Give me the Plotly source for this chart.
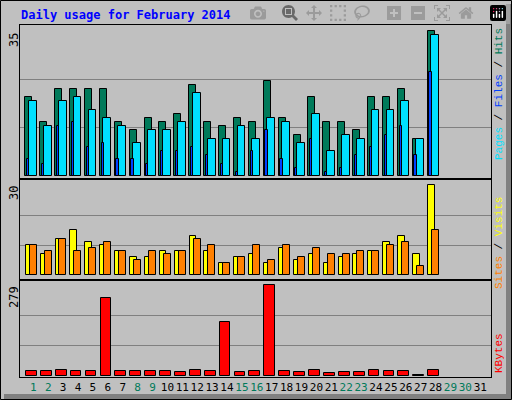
import plotly.graph_objects as go
import numpy as np

days = list(range(1, 32))
hits = [19, 13, 21, 21, 21, 21, 13, 11, 14, 13, 15, 22, 13, 12, 14, 13, 23, 14, 10, 19, 13, 13, 11, 19, 19, 21, 9, 35]
files = [18, 12, 18, 19, 16, 14, 12, 8, 11, 11, 13, 20, 9, 9, 12, 9, 14, 13, 8, 15, 6, 10, 9, 16, 16, 18, 9, 34]
pages = [4, 3, 12, 13, 7, 8, 4, 4, 3, 6, 6, 7, 5, 3, 1, 6, 11, 4, 2, 9, 1, 2, 5, 7, 10, 12, 5, 25]
visits = [10, 7, 12, 15, 11, 10, 8, 6, 6, 8, 8, 13, 8, 4, 6, 7, 4, 9, 5, 7, 4, 6, 7, 8, 11, 13, 7, 30]
sites = [10, 8, 12, 8, 9, 11, 8, 5, 8, 7, 8, 12, 10, 4, 6, 10, 5, 10, 6, 9, 7, 7, 8, 8, 10, 11, 3, 15]
kbytes = [16, 13, 19, 13, 13, 239, 13, 13, 13, 13, 10, 19, 13, 166, 10, 16, 279, 13, 10, 19, 7, 10, 10, 19, 16, 16, 2, 19]
weekend = [1, 2, 8, 9, 15, 16, 22, 23, 29, 30]

x = np.arange(1, len(hits) + 1)
W, H = 512, 400
L, R, T, B = 20, 21, 25, 23
pw, ph = W - L - R, H - T - B


def px(v):
    return (v - L) / pw


def py(v):
    return (H - B - v) / ph


fig = go.Figure()
line = dict(color="black", width=1)


def bar(xv, yv, w, color, ax):
    fig.add_trace(go.Bar(x=xv, y=yv, width=w, marker=dict(color=color, line=line),
                         xaxis="x" + ax, yaxis="y" + ax, showlegend=False, hoverinfo="y"))


bar(x - 0.30, hits, 0.47, "#007A5A", "")
bar(x - 0.03, files, 0.52, "#00E0FF", "")
bar(x - 0.345, pages, 0.15, "#0040FF", "")
bar(x - 0.29, visits, 0.44, "#FFFF00", "2")
bar(x - 0.01, sites, 0.47, "#FF8000", "2")
bar(x - 0.13, kbytes, 0.72, "#FF0000", "3")

xr = [0.107, 31.72]
ticktext = [f"<span style='color:{'#007A5A' if d in weekend else 'black'}'>{d}</span>" for d in days]
common_x = dict(range=xr, showgrid=False, zeroline=False, showline=True, linecolor="black",
                mirror=True, fixedrange=True)
common_y = dict(showline=True, linecolor="black", mirror=True, zeroline=False, showticklabels=False,
                gridcolor="#808080", gridwidth=1, ticks="")

fig.update_layout(
    width=W, height=H, margin=dict(l=L, r=R, t=T, b=B, autoexpand=False),
    paper_bgcolor="#C0C0C0", plot_bgcolor="#C0C0C0", barmode="overlay", bargap=0,
    font=dict(family="DejaVu Sans Mono", size=12, color="black"),
    xaxis=dict(common_x, anchor="y", showticklabels=False),
    xaxis2=dict(common_x, anchor="y2", showticklabels=False, matches="x"),
    xaxis3=dict(common_x, anchor="y3", tickmode="array", tickvals=days, ticktext=ticktext,
                tickfont=dict(size=11), ticks="", tickangle=0),
    yaxis=dict(common_y, domain=[py(178), 1], range=[-0.5, 36.45], tickvals=[11.67, 23.33]),
    yaxis2=dict(common_y, domain=[py(279), py(180)], range=[-1.2, 31.6], tickvals=[10, 20]),
    yaxis3=dict(common_y, domain=[0, py(281)], range=[-4, 292], tickvals=[93, 186]),
)

# left max labels
for text, yv in [("35", 31), ("30", 184), ("279", 284)]:
    fig.add_annotation(xref="paper", yref="paper", x=px(14), y=py(yv), text=text, textangle=-90,
                       showarrow=False, xanchor="center", yanchor="top", font=dict(size=12))

# right legends
fig.add_annotation(xref="paper", yref="paper", x=px(499), y=py(26),
                   text="<span style='color:#00E0FF'>Pages</span> / <span style='color:#0040FF'>Files</span>"
                        " / <span style='color:#007A5A'>Hits</span>",
                   textangle=-90, showarrow=False, xanchor="center", yanchor="top",
                   font=dict(family="Liberation Mono", size=11))
fig.add_annotation(xref="paper", yref="paper", x=px(499), y=py(195),
                   text="<span style='color:#FF8000'>Sites</span> / <span style='color:#FFFF00'>Visits</span>",
                   textangle=-90, showarrow=False, xanchor="center", yanchor="top",
                   font=dict(family="Liberation Mono", size=11))
fig.add_annotation(xref="paper", yref="paper", x=px(499), y=py(375),
                   text="<span style='color:#FF0000'>KBytes</span>",
                   textangle=-90, showarrow=False, xanchor="center", yanchor="bottom",
                   font=dict(family="Liberation Mono", size=11))

# title
fig.add_annotation(xref="paper", yref="paper", x=px(19), y=py(15), text="<b>Daily usage for February 2014</b>",
                   showarrow=False, xanchor="left", yanchor="middle",
                   font=dict(family="DejaVu Sans Mono", size=12, color="#0000FF"))

# outer frame with shadow
fig.add_shape(type="rect", xref="paper", yref="paper", x0=px(506), x1=px(511), y0=py(399), y1=py(4),
              fillcolor="#808080", line=dict(width=0), layer="below")
fig.add_shape(type="rect", xref="paper", yref="paper", x0=px(4), x1=px(511), y0=py(399), y1=py(394),
              fillcolor="#808080", line=dict(width=0), layer="below")
fig.add_shape(type="rect", xref="paper", yref="paper", x0=px(0.5), x1=px(511.5), y0=py(399.5), y1=py(0.5),
              line=dict(color="black", width=1))

fig.write_html("out.html", post_script="document.body.style.margin='0';")
